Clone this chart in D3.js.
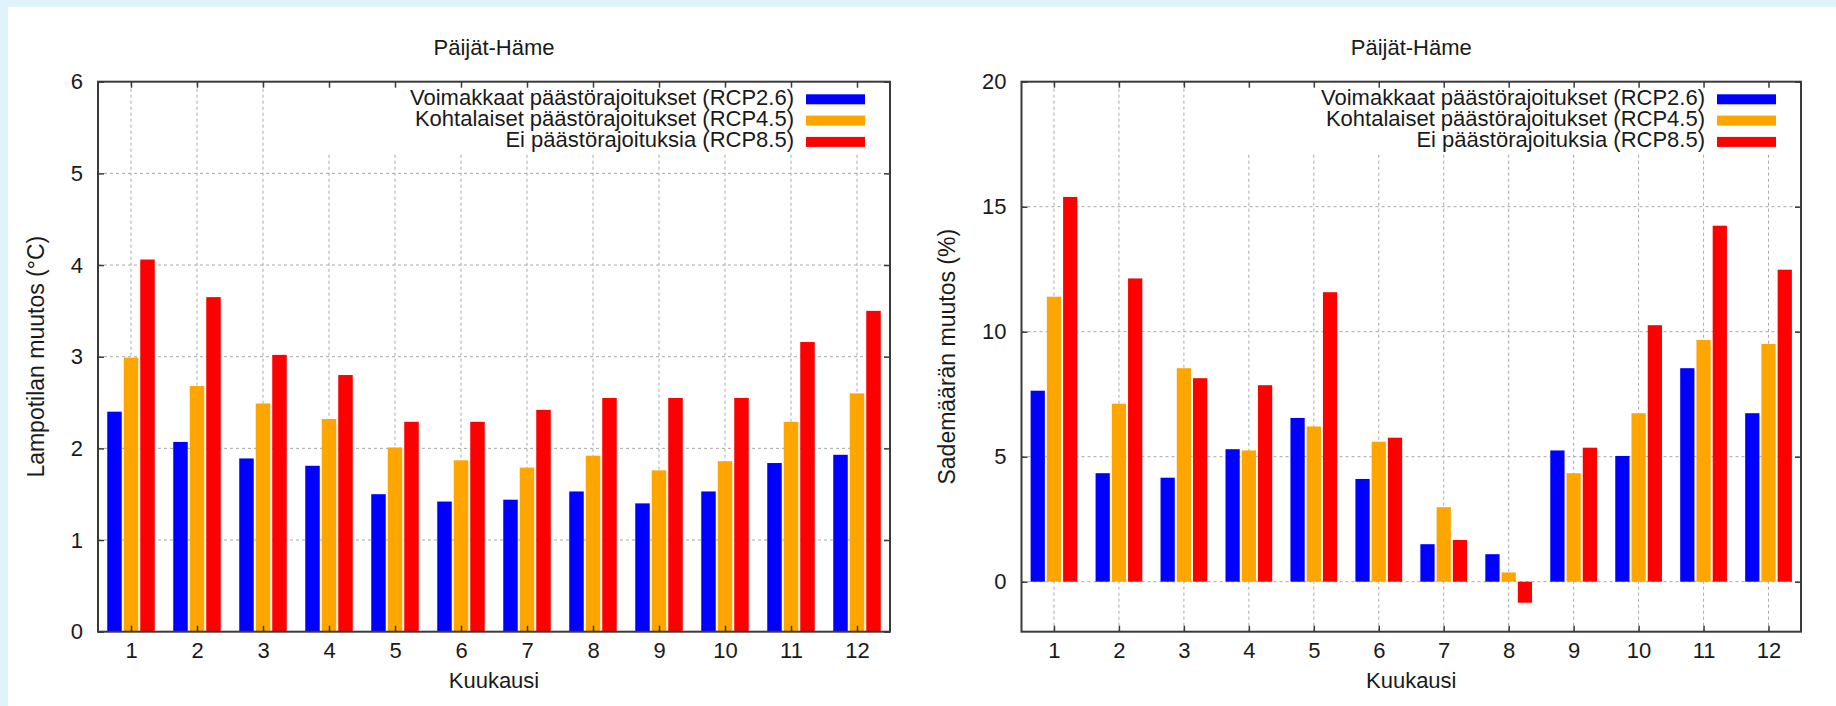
<!DOCTYPE html>
<html>
<head>
<meta charset="utf-8">
<script src="https://cdn.jsdelivr.net/npm/d3@7"></script>
<style>
  html, body { margin: 0; padding: 0; background: #ffffff; }
  svg { display: block; }
  text { font-family: "Liberation Sans", Arial, sans-serif; fill: #1a1a1a; }
</style>
</head>
<body>
<svg id="chart" width="1836" height="706"></svg>
<script>
// ---------- data ----------
const months = [1, 2, 3, 4, 5, 6, 7, 8, 9, 10, 11, 12];
const seriesNames = [
  "Voimakkaat päästörajoitukset (RCP2.6)",
  "Kohtalaiset päästörajoitukset (RCP4.5)",
  "Ei päästörajoituksia (RCP8.5)"
];
const seriesColors = ["#0000ff", "#ffa500", "#ff0000"];

// Temperature change (°C)
const tempRCP26 = [2.40, 2.07, 1.89, 1.81, 1.50, 1.42, 1.44, 1.53, 1.40, 1.53, 1.84, 1.93];
const tempRCP45 = [2.99, 2.68, 2.49, 2.32, 2.01, 1.87, 1.79, 1.92, 1.76, 1.86, 2.29, 2.60];
const tempRCP85 = [4.06, 3.65, 3.02, 2.80, 2.29, 2.29, 2.42, 2.55, 2.55, 2.55, 3.16, 3.50];

// Precipitation change (%)
const precRCP26 = [7.64, 4.34, 4.16, 5.30, 6.55, 4.11, 1.50, 1.10, 5.25, 5.03, 8.54, 6.74];
const precRCP45 = [11.40, 7.12, 8.54, 5.25, 6.21, 5.60, 2.98, 0.37, 4.34, 6.74, 9.67, 9.51];
const precRCP85 = [15.39, 12.13, 8.14, 7.86, 11.58, 5.76, 1.67, -0.84, 5.36, 10.26, 14.24, 12.48];

const tempTicks = [0, 1, 2, 3, 4, 5, 6];
const precTicks = [0, 5, 10, 15, 20];

const titleText = "Päijät-Häme";
const xLabel = "Kuukausi";
const tempYLabel = "Lampotilan muutos (°C)";
const precYLabel = "Sademäärän muutos (%)";

// ---------- drawing ----------
const svg = d3.select("#chart");
svg.append("rect").attr("x", 0).attr("y", 0).attr("width", 1836).attr("height", 706).attr("fill", "#ffffff");
svg.append("rect").attr("x", 0).attr("y", 0).attr("width", 1836).attr("height", 7).attr("fill", "#e0f2fa");
svg.append("rect").attr("x", 0).attr("y", 0).attr("width", 8).attr("height", 706).attr("fill", "#e0f2fa");

const FONT = 22;
const AXIS_COLOR = "#3a3a3a";
const GRID_COLOR = "#a8a8a8";

function drawPanel(cfg) {
  const { left, right, top, bottom, yDomain, yTicks, series, yLabel, yLabelX } = cfg;
  const x = d3.scaleLinear().domain([0.5, 12.5]).range([left, right]);
  const y = d3.scaleLinear().domain(yDomain).range([bottom, top]);
  const g = svg.append("g");

  // grid
  g.append("g").selectAll("line").data(months).join("line")
    .attr("x1", d => x(d)).attr("x2", d => x(d))
    .attr("y1", bottom).attr("y2", top)
    .attr("stroke", GRID_COLOR).attr("stroke-width", 1).attr("stroke-dasharray", "3,3");
  g.append("g").selectAll("line").data(yTicks.filter(t => y(t) < bottom - 1 && y(t) > top + 1)).join("line")
    .attr("x1", left).attr("x2", right)
    .attr("y1", d => y(d)).attr("y2", d => y(d))
    .attr("stroke", GRID_COLOR).attr("stroke-width", 1).attr("stroke-dasharray", "3,3");

  // bars
  const offsets = [-0.25, 0, 0.25];
  const bw = x(0.25) - x(0);
  series.forEach((vals, si) => {
    g.append("g").selectAll("rect").data(vals.map((v, i) => ({ m: months[i], v }))).join("rect")
      .attr("x", d => x(d.m + offsets[si]) - bw / 2 + 1)
      .attr("width", bw - 2)
      .attr("y", d => y(Math.max(d.v, 0)))
      .attr("height", d => Math.abs(y(d.v) - y(0)))
      .attr("fill", seriesColors[si]);
  });

  // legend (opaque box)
  g.append("rect")
    .attr("x", right - 580).attr("y", top + 1)
    .attr("width", 579).attr("height", 152 - top)
    .attr("fill", "#ffffff");
  const rowY = [99.3, 120.6, 141.9];
  seriesNames.forEach((name, i) => {
    g.append("text")
      .attr("x", right - 96).attr("y", rowY[i] + 5.5)
      .attr("text-anchor", "end")
      .attr("font-size", FONT)
      .text(name);
    g.append("rect")
      .attr("x", right - 84).attr("y", rowY[i] - 5)
      .attr("width", 59).attr("height", 10)
      .attr("fill", seriesColors[i]);
  });

  // axes (ticks inward on all sides)
  const axB = d3.axisBottom(x).tickValues(months).tickFormat(d3.format("d"))
    .tickSizeInner(-6).tickSizeOuter(0).tickPadding(11);
  const axT = d3.axisTop(x).tickValues(months).tickFormat("")
    .tickSizeInner(-6).tickSizeOuter(0);
  const axL = d3.axisLeft(y).tickValues(yTicks).tickFormat(d3.format("d"))
    .tickSizeInner(-6).tickSizeOuter(0).tickPadding(15);
  const axR = d3.axisRight(y).tickValues(yTicks).tickFormat("")
    .tickSizeInner(-6).tickSizeOuter(0);

  const styleAxis = sel => {
    sel.select(".domain").remove();
    sel.selectAll(".tick line").attr("stroke", AXIS_COLOR).attr("stroke-width", 1.5);
    sel.selectAll(".tick text").attr("font-size", FONT).attr("fill", "#1a1a1a")
      .attr("font-family", "Liberation Sans, Arial, sans-serif");
  };
  g.append("g").attr("transform", `translate(0,${bottom})`).call(axB).call(styleAxis);
  g.append("g").attr("transform", `translate(0,${top})`).call(axT).call(styleAxis);
  g.append("g").attr("transform", `translate(${left},0)`).call(axL).call(styleAxis);
  g.append("g").attr("transform", `translate(${right},0)`).call(axR).call(styleAxis);

  // border
  g.append("rect")
    .attr("x", left).attr("y", top)
    .attr("width", right - left).attr("height", bottom - top)
    .attr("fill", "none").attr("stroke", AXIS_COLOR).attr("stroke-width", 2);

  // title & labels
  const cx = (left + right) / 2;
  g.append("text").attr("x", cx).attr("y", 55).attr("text-anchor", "middle")
    .attr("font-size", FONT).text(titleText);
  g.append("text").attr("x", cx).attr("y", 688).attr("text-anchor", "middle")
    .attr("font-size", FONT).text(xLabel);
  const cy = (top + bottom) / 2;
  g.append("text")
    .attr("transform", `translate(${yLabelX},${cy}) rotate(-90)`)
    .attr("text-anchor", "middle")
    .attr("font-size", 23)
    .text(yLabel);
}

drawPanel({
  left: 98, right: 890, top: 81.7, bottom: 631.7,
  yDomain: [0, 6], yTicks: tempTicks,
  series: [tempRCP26, tempRCP45, tempRCP85],
  yLabel: tempYLabel, yLabelX: 44
});

drawPanel({
  left: 1021.5, right: 1801, top: 81.7, bottom: 631.7,
  yDomain: [-2, 20], yTicks: precTicks,
  series: [precRCP26, precRCP45, precRCP85],
  yLabel: precYLabel, yLabelX: 955
});
</script>
</body>
</html>
